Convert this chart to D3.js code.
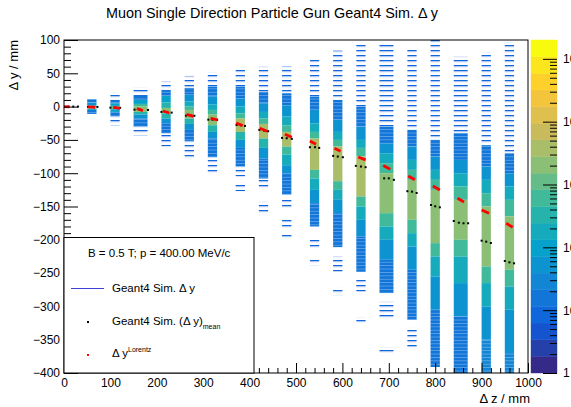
<!DOCTYPE html>
<html>
<head>
<meta charset="utf-8">
<script src="https://cdn.jsdelivr.net/npm/d3@7"></script>
<style>
body { margin: 0; background: #fff; }
svg { display: block; }
text { font-family: "Liberation Sans", Arial, Helvetica, sans-serif; }
</style>
</head>
<body>
<svg id="chart" width="571" height="407"></svg>
<script>
// z bins (mm) covered by each simulated stripe
var stripeZ = [[50,70],[100,120],[150,180],[210,230],[260,280],[310,330],[370,390],[420,440],[470,490],
               [530,550],[580,600],[630,650],[680,710],[740,760],[790,810],[840,870],[900,920],[950,970]];

// y segments per stripe: [yTop, yBottom, colour level 0..19], level -1 = sparse hits
var stripeSegments = [
  [[11,6,4],[6,2,6],[2,-1,9],[-1,-3,12],[-3,-5,8],[-5,-11,4]],
  [[21,10,-1],[10,5,4],[5,1,7],[1,-4,11],[-4,-8,7],[-8,-14,4],[-14,-28,-1]],
  [[29,16,-1],[16,10,4],[10,4,7],[4,0,10],[0,-8,12],[-8,-12,9],[-12,-18,6],[-18,-30,4],[-30,-43,-1]],
  [[38,25,-1],[25,16,4],[16,6,7],[6,-2,9],[-2,-10,12],[-10,-18,9],[-18,-25,6],[-25,-40,4],[-40,-60,-1]],
  [[46,28,-1],[28,18,4],[18,8,6],[8,0,8],[0,-5,10],[-5,-18,12],[-18,-26,9],[-26,-35,6],[-35,-52,4],[-52,-78,-1]],
  [[52,30,-1],[30,15,4],[15,3,6],[3,-5,8],[-5,-12,10],[-12,-28,12],[-28,-38,9],[-38,-48,6],[-48,-76,4],[-76,-100,-1]],
  [[56,30,-1],[30,12,4],[12,0,6],[0,-10,8],[-10,-18,10],[-18,-38,13],[-38,-50,9],[-50,-62,6],[-62,-90,4],[-90,-105,-1],[-115,-127,-1]],
  [[60,22,-1],[22,5,4],[5,-8,6],[-8,-18,8],[-18,-26,10],[-26,-48,13],[-48,-62,9],[-62,-78,6],[-78,-108,4],[-110,-122,-1],[-143,-160,-1]],
  [[61,20,-1],[20,2,4],[2,-15,6],[-15,-28,8],[-28,-38,10],[-38,-60,13],[-60,-72,10],[-72,-88,8],[-88,-100,6],[-100,-132,4],
   [-140,-152,-1],[-170,-185,-1],[-190,-197,-1]],
  [[71,15,-1],[15,-5,4],[-5,-25,6],[-25,-38,8],[-38,-48,10],[-48,-95,13],[-95,-108,10],[-108,-125,8],[-125,-145,6],[-145,-180,4],
   [-197,-215,-1],[-230,-238,-1]],
  [[84,10,-1],[10,-20,4],[-20,-38,6],[-38,-50,8],[-50,-60,10],[-60,-112,13],[-112,-125,10],[-125,-140,8],[-140,-160,6],[-160,-211,4],
   [-225,-248,-1],[-272,-283,-1]],
  [[95,0,-1],[0,-30,4],[-30,-50,6],[-50,-62,8],[-62,-75,10],[-75,-135,13],[-135,-150,10],[-150,-170,8],[-170,-195,6],[-195,-248,4],
   [-257,-278,-1],[-316,-325,-1]],
  [[95,-30,-1],[-30,-55,4],[-55,-70,6],[-70,-85,8],[-85,-100,10],[-100,-160,12],[-160,-180,10],[-180,-200,8],[-200,-230,6],[-230,-280,4],
   [-293,-320,-1],[-361,-370,-1]],
  [[85,-35,-1],[-35,-60,4],[-60,-80,6],[-80,-95,8],[-95,-110,10],[-110,-170,12],[-170,-190,10],[-190,-210,8],[-210,-245,6],[-245,-320,4],
   [-332,-362,-1]],
  [[100,-50,-1],[-50,-75,4],[-75,-95,6],[-95,-110,8],[-110,-125,10],[-125,-205,12],[-205,-225,10],[-225,-255,8],[-255,-305,6],[-305,-391,4]],
  [[75,-40,-1],[-40,-80,4],[-80,-100,6],[-100,-120,8],[-120,-140,10],[-140,-200,12],[-200,-225,10],[-225,-265,8],[-265,-315,6],[-315,-400,4]],
  [[82,-58,-1],[-58,-90,4],[-90,-110,6],[-110,-130,8],[-130,-150,10],[-150,-240,12],[-240,-265,10],[-265,-300,8],[-300,-350,6],[-350,-400,5]],
  [[97,-70,-1],[-70,-100,4],[-100,-120,6],[-120,-140,8],[-140,-165,10],[-165,-245,12],[-245,-270,10],[-270,-305,8],[-305,-370,6],[-370,-400,5]]
];

// Lorentz prediction: short segments [z0, y0, z1, y1]
var lorentzSegs = [[0,0,11,-0.3],[52,-0.4,67,-1],[106,-1,121,-2.5],[157,-3,170,-6],[213,-6.6,227,-9.6],[264,-11.6,279,-14.6],
  [316,-17.6,331,-20],[371,-24.6,385,-28.6],[422,-32.6,438,-37],[476,-41.6,491,-46],[530,-51.6,543,-56.6],
  [583,-62.6,596,-67],[634,-75.6,650,-80],[688,-88.6,703,-94],[742,-104.2,756,-109.7],[795,-119.2,810,-125.2],
  [848,-137.7,862,-143.2],[900,-155.2,916,-160.2],[953,-175.2,967,-181.2]];

// mean of simulated dy per z bin
var meanZ = [[10,20,30],[52,62,72],[100,111,121],[152,163,181],[210,221,232],[263,274,281],[311,320,330],[372,381,390],
  [421,431,440],[470,480,491],[530,541,550],[580,590,601],[629,640,650],[690,700,711],[740,750,760],
  [791,800,810],[840,851,861,871],[900,910,920],[950,960,970]];
var meanY = [[0,0,0],[-0.4,-0.4,-0.5],[-1.6,-1.6,-1.8],[-4.6,-4.6,-5],[-8,-8,-9],[-13.6,-13.6,-13.8],[-19.6,-19.6,-20],
  [-27.6,-28,-29],[-35,-36,-37],[-47,-47.5,-48.5],[-61,-61,-62],[-74,-75,-76],[-89,-90,-91],[-107.7,-107.7,-110],
  [-127,-127.7,-129.7],[-147.7,-149.7,-151.2],[-171.8,-174.3,-175.2,-175.2],[-201.3,-202.8,-204.8],[-231.8,-233.8,-235.3]];

var xTicks = [0,100,200,300,400,500,600,700,800,900,1000];
var yTicks = [100,50,0,-50,-100,-150,-200,-250,-300,-350,-400];
var paletteDecades = [0,1,2,3,4,5];
var paletteLabels = ["1","10","10\u00b2","10\u00b3","10\u2074","10\u2075"];
var nContours = 20;
var logMax = 5.3;

// ROOT kBird palette stops
var birdStops = ["#352a87","#0f5cdd","#1481d6","#06a4ca","#2eb7a4","#87bf77","#d1bb59","#fec832","#f9fb0e"];

var svg = d3.select("#chart");
var mLeft = 64, mRight = 528, mTop = 40, mBottom = 373;

var x = d3.scaleLinear().domain([0, 1000]).range([mLeft, mRight]);
var y = d3.scaleLinear().domain([-400, 100]).range([mBottom, mTop]);
var bird = d3.scaleLinear().domain(d3.range(birdStops.length).map(function(i) { return i / (birdStops.length - 1); }))
  .range(birdStops).interpolate(d3.interpolateRgb);
function levelColor(l) { return bird(l / (nContours - 1)); }

var defs = svg.append("defs");
// sparse single hits
var pat = defs.append("pattern").attr("id", "sparse").attr("patternUnits", "userSpaceOnUse")
  .attr("width", 20).attr("height", 5);
pat.append("rect").attr("y", 0).attr("width", 20).attr("height", 1.3).attr("fill", levelColor(3));
pat.append("rect").attr("y", 1.3).attr("width", 20).attr("height", 0.9).attr("fill", "#adc3ef");
// thin light lines between low-count bins
var striae = defs.append("pattern").attr("id", "striae").attr("patternUnits", "userSpaceOnUse")
  .attr("width", 20).attr("height", 3.4);
striae.append("rect").attr("y", 0).attr("width", 20).attr("height", 0.8).attr("fill", "#fff").attr("opacity", 0.35);
defs.append("clipPath").attr("id", "plotclip").append("rect")
  .attr("x", mLeft).attr("y", mTop).attr("width", mRight - mLeft).attr("height", mBottom - mTop);

var plot = svg.append("g").attr("clip-path", "url(#plotclip)");

// heat map cells
stripeSegments.forEach(function(segs, i) {
  var z0 = stripeZ[i][0], z1 = stripeZ[i][1];
  plot.selectAll(null).data(segs).enter().append("rect")
    .attr("x", x(z0))
    .attr("width", x(z1) - x(z0))
    .attr("y", function(d) { return y(d[0]); })
    .attr("height", function(d) { return y(d[1]) - y(d[0]); })
    .attr("fill", function(d) { return d[2] < 0 ? "url(#sparse)" : levelColor(d[2]); });
  plot.selectAll(null).data(segs.filter(function(d) { return d[2] >= 0 && d[2] <= 5; })).enter().append("rect")
    .attr("x", x(z0))
    .attr("width", x(z1) - x(z0))
    .attr("y", function(d) { return y(d[0]); })
    .attr("height", function(d) { return y(d[1]) - y(d[0]); })
    .attr("fill", "url(#striae)");
});

// mean points
meanZ.forEach(function(zs, i) {
  plot.selectAll(null).data(zs).enter().append("rect")
    .attr("x", function(d) { return x(d) - 1; })
    .attr("y", function(d, j) { return y(meanY[i][j]) - 1; })
    .attr("width", 2).attr("height", 2)
    .attr("fill", "#000");
});

// Lorentz prediction
plot.selectAll(".lor").data(lorentzSegs).enter().append("line")
  .attr("x1", function(d) { return x(d[0]); })
  .attr("y1", function(d) { return y(d[1]); })
  .attr("x2", function(d) { return x(d[2]); })
  .attr("y2", function(d) { return y(d[3]); })
  .attr("stroke", "#ff0000").attr("stroke-width", 2.8);

// frame
svg.append("rect").attr("x", mLeft).attr("y", mTop).attr("width", mRight - mLeft).attr("height", mBottom - mTop)
  .attr("fill", "none").attr("stroke", "#000").attr("stroke-width", 1);

// axes
var xMinor = d3.range(0, 1001, 20).filter(function(v) { return v % 100 != 0; });
var yMinor = d3.range(-400, 101, 10).filter(function(v) { return v % 50 != 0; });

svg.append("g").attr("transform", "translate(0," + mBottom + ")")
  .call(d3.axisBottom(x).tickValues(xTicks).tickSize(-10).tickPadding(5).tickFormat(d3.format("d")));
svg.append("g").attr("transform", "translate(0," + mBottom + ")")
  .call(d3.axisBottom(x).tickValues(xMinor).tickSize(-5).tickFormat(""));
svg.append("g").attr("transform", "translate(" + mLeft + ",0)")
  .call(d3.axisLeft(y).tickValues(yTicks).tickSize(-14).tickPadding(4).tickFormat(d3.format("d")));
svg.append("g").attr("transform", "translate(" + mLeft + ",0)")
  .call(d3.axisLeft(y).tickValues(yMinor).tickSize(-7).tickFormat(""));

// colour palette
var palX0 = 531, palX1 = 557;
var pz = d3.scaleLinear().domain([0, logMax]).range([mBottom, mTop]);
svg.selectAll(".band").data(d3.range(nContours)).enter().append("rect")
  .attr("x", palX0).attr("width", palX1 - palX0)
  .attr("y", function(i) { return pz((i + 1) * logMax / nContours); })
  .attr("height", function(i) { return pz(i * logMax / nContours) - pz((i + 1) * logMax / nContours); })
  .attr("fill", function(i) { return levelColor(i); })
  .attr("stroke", function(i) { return levelColor(i); }).attr("stroke-width", 0.4);

var pMinor = [];
paletteDecades.forEach(function(k) {
  for (var m = 2; m <= 9; m++) {
    var v = k + Math.log10(m);
    if (v <= logMax) pMinor.push(v);
  }
});
svg.append("g").attr("transform", "translate(" + palX1 + ",0)")
  .call(d3.axisRight(pz).tickValues(paletteDecades).tickSize(-14).tickPadding(6)
    .tickFormat(function(d, i) { return paletteLabels[i]; }));
svg.append("g").attr("transform", "translate(" + palX1 + ",0)")
  .call(d3.axisRight(pz).tickValues(pMinor).tickSize(-7).tickFormat(""));
svg.selectAll(".domain").remove();
svg.selectAll(".tick line").attr("stroke", "#000");
svg.selectAll(".tick text").attr("font-size", 12).attr("fill", "#000")
  .style("font-family", "'Liberation Sans', Arial, sans-serif");

// titles
svg.append("text").attr("x", 272).attr("y", 18).attr("text-anchor", "middle")
  .attr("font-size", 14.4).text("Muon Single Direction Particle Gun Geant4 Sim. \u0394 y");
svg.append("text").attr("x", 530).attr("y", 403).attr("text-anchor", "end")
  .attr("font-size", 13).text("\u0394 z / mm");
svg.append("text").attr("transform", "translate(17.5,40) rotate(-90)").attr("text-anchor", "end")
  .attr("font-size", 13).text("\u0394 y / mm");

// legend
var leg = svg.append("g");
leg.append("rect").attr("x", mLeft).attr("y", 237.5).attr("width", 254 - mLeft).attr("height", mBottom - 237.5)
  .attr("fill", "#fff").attr("stroke", "#000").attr("stroke-width", 1);
leg.append("text").attr("x", 88).attr("y", 257).attr("font-size", 11.5).text("B = 0.5 T; p = 400.00 MeV/c");
leg.append("line").attr("x1", 71).attr("x2", 104).attr("y1", 288.5).attr("y2", 288.5)
  .attr("stroke", "#4040d8").attr("stroke-width", 1);
leg.append("text").attr("x", 112).attr("y", 292).attr("font-size", 11.5).text("Geant4 Sim. \u0394 y");
leg.append("rect").attr("x", 87).attr("y", 321).attr("width", 2).attr("height", 2).attr("fill", "#000");
var t2 = leg.append("text").attr("x", 112).attr("y", 324.5).attr("font-size", 11.5);
t2.append("tspan").text("Geant4 Sim. (\u0394 y)");
t2.append("tspan").attr("dy", 4).attr("font-size", 7).text("mean");
leg.append("rect").attr("x", 87).attr("y", 354).attr("width", 2).attr("height", 2).attr("fill", "#ff0000");
var t3 = leg.append("text").attr("x", 112).attr("y", 357).attr("font-size", 11.5);
t3.append("tspan").text("\u0394 y");
t3.append("tspan").attr("dy", -5).attr("font-size", 7).text("Lorentz");
</script>
</body>
</html>
